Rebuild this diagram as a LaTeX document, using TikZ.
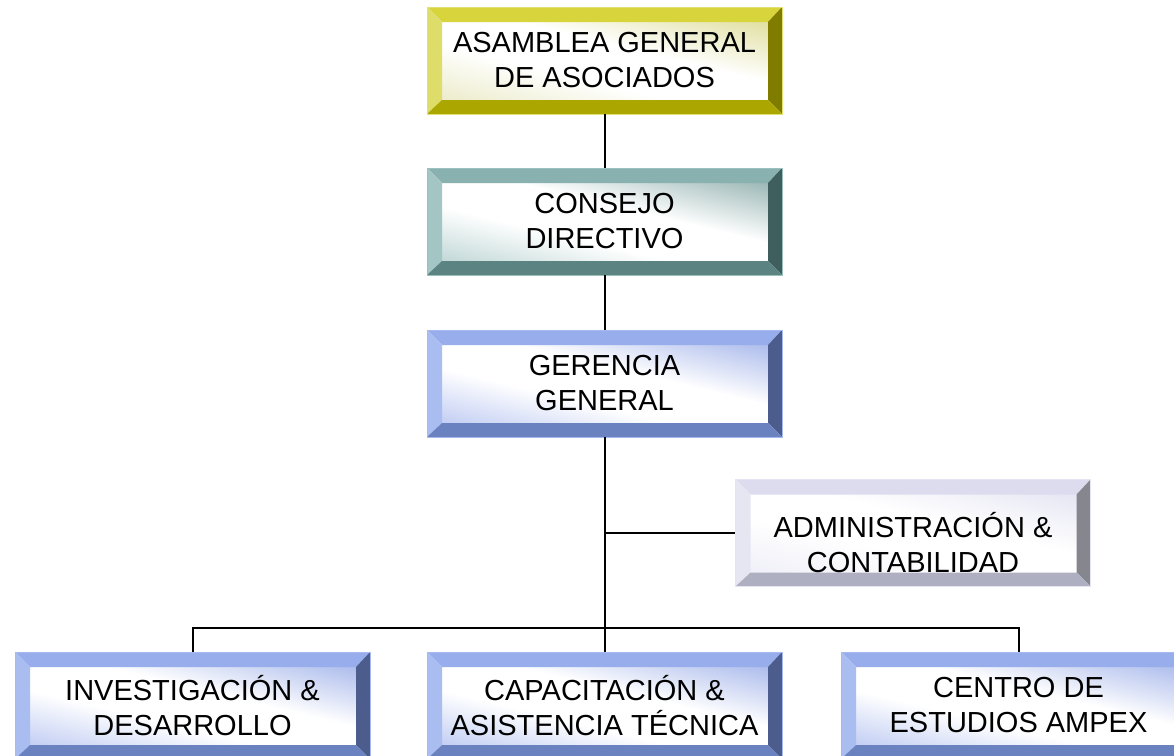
\documentclass[tikz,border=0pt]{standalone}
\usepackage{fontspec}
\setmainfont{Liberation Sans}
\usetikzlibrary{calc}
\definecolor{yT}{HTML}{D8D43C}\definecolor{yL}{HTML}{DEDD6A}\definecolor{yR}{HTML}{7F7C00}\definecolor{yB}{HTML}{ABA700}\definecolor{yI}{HTML}{D4D27A}\definecolor{yJ}{HTML}{E4E3B4}\definecolor{yO}{HTML}{E2E070}
\definecolor{tT}{HTML}{89B1AF}\definecolor{tL}{HTML}{A3C6C5}\definecolor{tR}{HTML}{3F5F5E}\definecolor{tB}{HTML}{5A8381}\definecolor{tI}{HTML}{729A98}\definecolor{tJ}{HTML}{A6C6C5}\definecolor{tO}{HTML}{9CC0BE}
\definecolor{bT}{HTML}{98AEEC}\definecolor{bL}{HTML}{AABDF1}\definecolor{bR}{HTML}{4B5C8D}\definecolor{bB}{HTML}{6A82C0}\definecolor{bI}{HTML}{8AA0E4}\definecolor{bJ}{HTML}{A6B7EE}\definecolor{bO}{HTML}{A6BAF0}
\definecolor{aT}{HTML}{DCDCEE}\definecolor{aL}{HTML}{E6E6F3}\definecolor{aR}{HTML}{86868F}\definecolor{aB}{HTML}{AFAFC2}\definecolor{aI}{HTML}{DCDCEF}\definecolor{aJ}{HTML}{E8E8F5}\definecolor{aO}{HTML}{E4E4F2}
\colorlet{shA}{white}\colorlet{shB}{white}
\pgfdeclareverticalshading[shA,shB]{bevsh}{100bp}{color(0bp)=(shB); color(10bp)=(shB); color(41bp)=(white); color(57bp)=(white); color(90bp)=(shA); color(100bp)=(shA)}
\newcommand\orgfont{\fontsize{29}{35}\selectfont}
\tikzset{
 orgbox/.style n args={7}{rectangle, minimum width=355pt, minimum height=107pt, inner sep=0pt, align=center, font=\orgfont,
  draw=#6, line width=0.8pt,
  path picture={
   \coordinate (pNW) at (path picture bounding box.north west);
   \coordinate (pNE) at (path picture bounding box.north east);
   \coordinate (pSE) at (path picture bounding box.south east);
   \coordinate (pSW) at (path picture bounding box.south west);
   \coordinate (qNW) at ([xshift=15pt,yshift=-15pt]pNW);
   \coordinate (qNE) at ([xshift=-14pt,yshift=-15pt]pNE);
   \coordinate (qSE) at ([xshift=-14pt,yshift=14pt]pSE);
   \coordinate (qSW) at ([xshift=15pt,yshift=14pt]pSW);
   \colorlet{shA}{#5}\colorlet{shB}{#7}
   \shade[shading=bevsh, shading angle=-13.5] (qNW) rectangle (qSE);
   \fill[#1] (pNW) -- (pNE) -- (qNE) -- (qNW) -- cycle;
   \fill[#2] (pNW) -- (qNW) -- (qSW) -- (pSW) -- cycle;
   \fill[#3] (pNE) -- (pSE) -- (qSE) -- (qNE) -- cycle;
   \fill[#4] (pSW) -- (qSW) -- (qSE) -- (pSE) -- cycle;
  }},
 yellowbox/.style={orgbox={yT}{yL}{yR}{yB}{yI}{yO}{yJ}},
 tealbox/.style={orgbox={tT}{tL}{tR}{tB}{tI}{tO}{tJ}},
 bluebox/.style={orgbox={bT}{bL}{bR}{bB}{bI}{bO}{bJ}},
 adminbox/.style={orgbox={aT}{aL}{aR}{aB}{aI}{aO}{aJ}},
 conn/.style={line width=2pt, black},
}
\begin{document}
\begin{tikzpicture}[x=1pt,y=1pt]
\clip (0,0) rectangle (1174,-755);
\fill[white] (0,0) rectangle (1174,-755);
\node[yellowbox] (asam) at (604.5,-60.5) {ASAMBLEA GENERAL\\DE ASOCIADOS};
\node[tealbox] (cons) at (604.5,-221.5) {CONSEJO\\DIRECTIVO};
\node[bluebox] (ger) at (604.5,-383.5) {GERENCIA\\GENERAL};
\node[adminbox] (adm) at (913,-533) {\rule{0pt}{45pt}ADMINISTRACIÓN \&\\CONTABILIDAD};
\node[bluebox] (inv) at (192.5,-705.5) {INVESTIGACIÓN \&\\DESARROLLO};
\node[bluebox] (cap) at (604.5,-705.5) {CAPACITACIÓN \&\\ASISTENCIA TÉCNICA};
\node[bluebox] (cen) at (1018.5,-705.5) {CENTRO DE\\ESTUDIOS AMPEX};
\coordinate (bus) at (604.5,-628);
\draw[conn] (asam.south) -- (cons.north);
\draw[conn] (cons.south) -- (ger.north);
\draw[conn] (ger.south) -- (cap.north);
\draw[conn] (adm.west) -- (adm.west -| ger.south);
\draw[conn] (inv.north) |- (bus) -| (cen.north);
\end{tikzpicture}
\end{document}
